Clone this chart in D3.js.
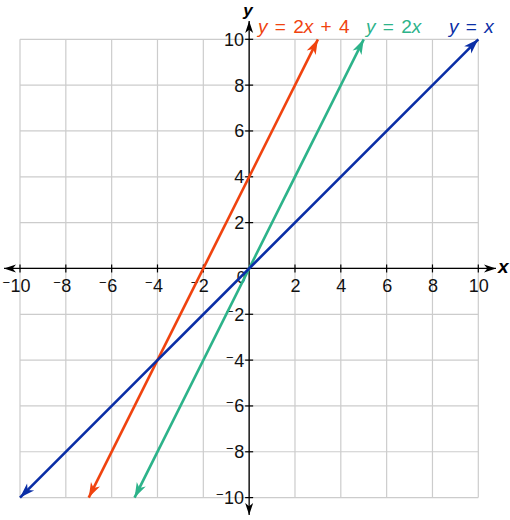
<!DOCTYPE html>
<html><head><meta charset="utf-8">
<script src="https://cdn.jsdelivr.net/npm/d3@7"></script>
<style>body{margin:0;background:#fff}svg{display:block;font-family:"Liberation Sans",Arial,sans-serif}</style>
</head><body>
<script>
const xTicks = [-10,-8,-6,-4,-2,2,4,6,8,10];
const yTicks = [-10,-8,-6,-4,-2,2,4,6,8,10];
const gridVals = [-10,-8,-6,-4,-2,0,2,4,6,8,10];
const lineNames = ["y = 2x + 4","y = 2x","y = x"];
const lineColors = ["#f0430f","#2db38a","#0a2ea6"];
const lineStarts = [[-7,-10],[-5,-10],[-10,-10]];
const lineEnds = [[3,10],[5,10],[10,10]];
const labelPos = [[258,33],[366,33],[449,33]];

const W=510,H=520;
const x=d3.scaleLinear().domain([-10,10]).range([20,478.3]);
const y=d3.scaleLinear().domain([-10,10]).range([497.6,39.3]);
const svg=d3.select("body").append("svg").attr("width",W).attr("height",H);
const defs=svg.append("defs");
function marker(id,color,len,wid){
  defs.append("marker").attr("id",id).attr("markerUnits","userSpaceOnUse")
   .attr("viewBox",`${-len-1} ${-wid/2-1} ${len+2} ${wid+2}`).attr("refX",0).attr("refY",0)
   .attr("markerWidth",len+2).attr("markerHeight",wid+2).attr("orient","auto-start-reverse")
   .append("path").attr("d",`M0,0L${-len},${-wid/2}L${-len*0.72},0L${-len},${wid/2}Z`).attr("fill",color);
}
marker("ax","#000",12,8);
lineColors.forEach((c,i)=>marker("m"+i,c,15,10));

// grid
const g=svg.append("g").attr("stroke","#cccccc").attr("stroke-width",1.2);
g.selectAll(".gx").data(gridVals).join("line").attr("x1",d=>x(d)).attr("x2",d=>x(d)).attr("y1",y(10)).attr("y2",y(-10));
g.selectAll(".gy").data(gridVals).join("line").attr("y1",d=>y(d)).attr("y2",d=>y(d)).attr("x1",x(-10)).attr("x2",x(10));

// axes
const x0=x(0),y0=y(0);
svg.append("line").attr("x1",4).attr("x2",496).attr("y1",y0).attr("y2",y0).attr("stroke","#000").attr("stroke-width",1.3)
  .attr("marker-start","url(#ax)").attr("marker-end","url(#ax)");
svg.append("line").attr("y1",21).attr("y2",515).attr("x1",x0).attr("x2",x0).attr("stroke","#000").attr("stroke-width",1.3)
  .attr("marker-start","url(#ax)").attr("marker-end","url(#ax)");
svg.selectAll(".tx").data(xTicks).join("line").attr("x1",d=>x(d)).attr("x2",d=>x(d)).attr("y1",y0-4).attr("y2",y0+4).attr("stroke","#000").attr("stroke-width",1.2);
svg.selectAll(".ty").data(yTicks).join("line").attr("y1",d=>y(d)).attr("y2",d=>y(d)).attr("x1",x0-4).attr("x2",x0+4).attr("stroke","#000").attr("stroke-width",1.2);

function addMinus(node,d){
  if(d>=0) return;
  const b=node.getBBox();
  svg.append("text").attr("x",b.x-0.5).attr("y",+node.getAttribute("y")-5)
    .attr("text-anchor","end").attr("font-size","13px").attr("fill","#111").text("\u2212");
}
svg.selectAll(".lx").data(xTicks).join("text").attr("x",d=>x(d)+0.5).attr("y",y0+24)
  .attr("text-anchor","middle").attr("font-size","18px").attr("fill","#111").text(d=>Math.abs(d))
  .each(function(d){addMinus(this,d);});
svg.selectAll(".ly").data(yTicks).join("text").attr("x",x0-5).attr("y",d=>y(d)+6.5)
  .attr("text-anchor","end").attr("font-size","18px").attr("fill","#111").text(d=>Math.abs(d))
  .each(function(d){addMinus(this,d);});
svg.append("text").attr("x",x0-8).attr("y",y0+15).attr("text-anchor","middle").attr("font-size","16px").attr("fill","#111").text("0");

svg.append("text").attr("x",498).attr("y",y0+5).attr("font-size","19px").attr("font-weight","bold").attr("font-style","italic").text("x");
svg.append("text").attr("x",x0-6).attr("y",16).attr("font-size","17px").attr("font-weight","bold").attr("font-style","italic").text("y");

// lines
lineNames.forEach((n,i)=>{
  svg.append("line").attr("x1",x(lineStarts[i][0])).attr("y1",y(lineStarts[i][1]))
   .attr("x2",x(lineEnds[i][0])).attr("y2",y(lineEnds[i][1]))
   .attr("stroke",lineColors[i]).attr("stroke-width",2.6)
   .attr("marker-start",`url(#m${i})`).attr("marker-end",`url(#m${i})`);
  const t=svg.append("text").attr("x",labelPos[i][0]).attr("y",labelPos[i][1]).attr("font-size","19px")
    .attr("word-spacing","2px").attr("fill",lineColors[i]);
  const parts=n.split(/([xy])/).filter(s=>s.length);
  parts.forEach(p=>{const s=t.append("tspan").text(p); if(p==="x"||p==="y") s.attr("font-style","italic");});
});
</script>
</body></html>
